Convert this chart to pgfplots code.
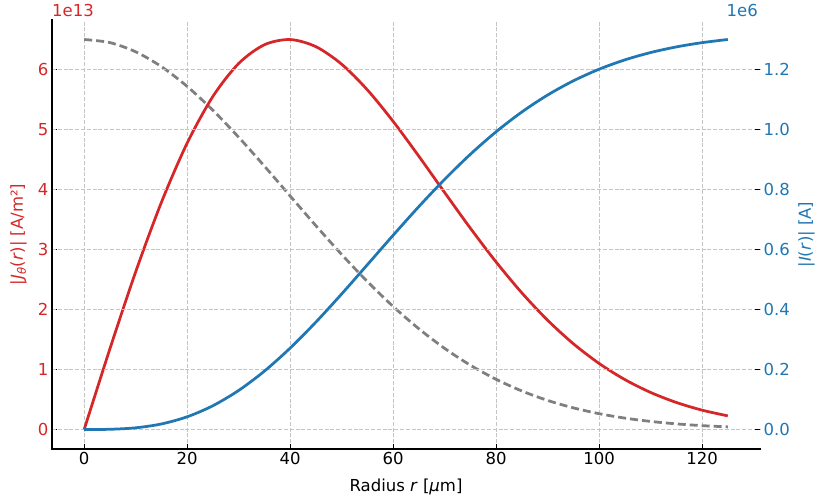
\documentclass[border=0pt]{standalone}
\usepackage{fontspec}
\setmainfont{DejaVu Sans}
\usepackage{pgfplots}
\pgfplotsset{compat=1.18}
\usepackage{pgfplotstable}
\definecolor{tabred}{HTML}{D62728}
\definecolor{tabblue}{HTML}{1F77B4}
\definecolor{tabgray}{HTML}{7F7F7F}
\definecolor{gridc}{HTML}{C4C4C4}

\pgfplotstableread{
r   J       G       I
0   0.0000  6.5000  0.00000
5   1.3457  6.4481  0.00071
10  2.6275  6.2950  0.00560
15  3.7865  6.0478  0.01847
20  4.7734  5.7180  0.04234
25  5.5516  5.3202  0.07926
30  6.1000  4.8714  0.13012
35  6.4127  4.3896  0.19459
40  6.4990  3.8926  0.27131
45  6.3804  3.3969  0.35799
50  6.0885  2.9173  0.45172
55  5.6601  2.4655  0.54929
60  5.1356  2.0506  0.64744
65  4.5537  1.6784  0.74313
70  3.9501  1.3519  0.83379
75  3.3548  1.0717  0.91736
80  2.7915  0.8360  0.99251
85  2.2769  0.6418  1.05840
90  1.8214  0.4848  1.11488
95  1.4293  0.3605  1.16218
100 1.1008  0.2637  1.20095
105 0.8322  0.1899  1.23206
110 0.6178  0.1346  1.25649
115 0.4504  0.0938  1.27530
120 0.3225  0.0644  1.28949
125 0.2269  0.0435  1.30000
}\data

\begin{document}
\begin{tikzpicture}[font=\fontsize{16.5bp}{19bp}\selectfont]
\useasboundingbox (-52bp,-53bp) rectangle (763bp,449bp);
\pgfplotsset{
  base/.style={
    scale only axis, width=708bp, height=429bp,
    at={(0,0)}, anchor=south west,
    xmin=-6.25, xmax=131.25,
    /pgf/number format/assume math mode=true,
    major tick length=5bp,
    tick style={line width=1bp, color=black},
    major grid style={dash pattern=on 4bp off 1.8bp, line width=1bp, color=gridc},
    axis line style={draw=none},
  }
}
\begin{axis}[base, name=ax1,
  ymin=-0.325, ymax=6.825,
  xtick={0,20,40,60,80,100,120},
  ytick={0,1,2,3,4,5,6},
  tick pos=left,
  xmajorgrids, ymajorgrids,
  yticklabel style={text=tabred},
  xlabel={Radius \textit{r} [\textit{μ}m]},
  xlabel style={at={(axis description cs:0.5,-0.0886)}, anchor=center},
  ylabel={|\textit{J}\textsubscript{\textit{θ}}(\textit{r})| [A/m²]},
  ylabel style={at={(axis description cs:-0.0473,0.5)}, anchor=center, text=tabred, rotate=0},
]
\addplot[tabgray, line width=2.75bp, dash pattern=on 8bp off 4bp, smooth] table[x=r, y=G] {\data};
\addplot[tabred, line width=2.75bp, smooth] table[x=r, y=J] {\data};
\end{axis}
\begin{axis}[base, name=ax2,
  hide x axis,
  ymin=-0.065, ymax=1.365,
  ytick={0,0.2,0.4,0.6,0.8,1.0,1.2},
  yticklabels={0.0,0.2,0.4,0.6,0.8,1.0,1.2},
  ytick pos=right,
  yticklabel pos=right,
  ymajorgrids,
  yticklabel style={text=tabblue},
  ylabel={|\textit{I}(\textit{r})| [A]},
  ylabel style={at={(axis description cs:1.0657,0.5)}, anchor=center, text=tabblue, rotate=0},
]
\addplot[tabblue, line width=2.75bp, smooth] table[x=r, y=I] {\data};
\end{axis}
\draw[line width=1.1bp, line cap=rect] (ax1.north west) -- (ax1.south west) -- (ax1.south east);
\node[anchor=base west, text=tabred, inner sep=0pt] at ([yshift=3bp]ax1.north west) {1e13};
\node[anchor=base east, text=tabblue, inner sep=0pt] at ([yshift=3bp, xshift=-2bp]ax1.north east) {1e6};
\end{tikzpicture}
\end{document}
